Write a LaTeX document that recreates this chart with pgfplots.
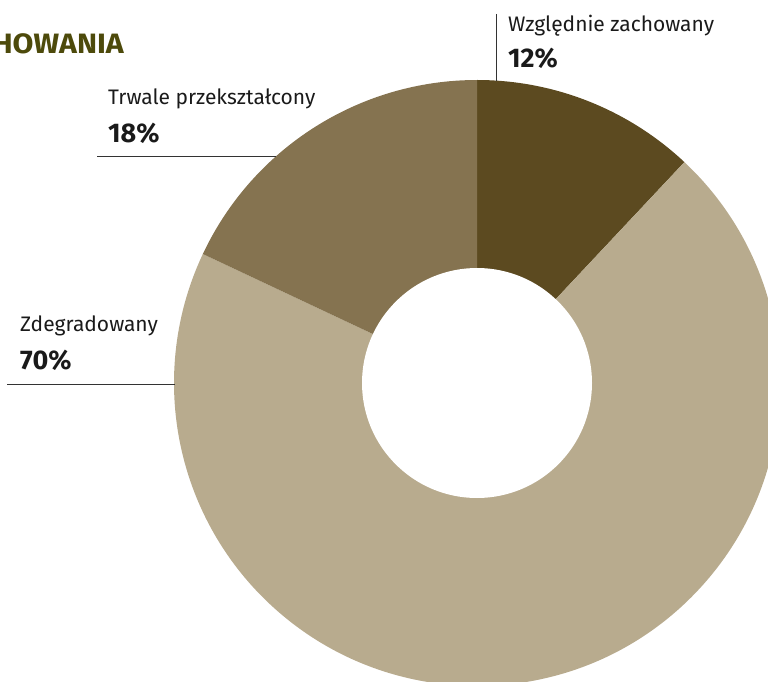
\documentclass[border=0pt]{standalone}
\usepackage{pgfplots}
\usepackage{pgfplotstable}
\pgfplotsset{compat=1.18}
\usepackage{fontspec}
\setmainfont{Fira Sans}
\definecolor{cA}{HTML}{5C4A20}
\definecolor{cB}{HTML}{B8AB8E}
\definecolor{cC}{HTML}{857350}
\definecolor{ttl}{HTML}{4D4A0B}
\definecolor{txt}{HTML}{1A1A1A}
\definecolor{lin}{HTML}{333333}
\pgfplotstableread{
label value
A 12
B 70
C 18
}\piedata
\def\pcx{477}
\def\pcy{298}
\def\pR{303}
\def\pr{115}
\begin{document}%
\begin{tikzpicture}
\pgfplotstablegetelem{0}{value}\of\piedata \let\valA\pgfplotsretval
\pgfplotstablegetelem{1}{value}\of\piedata \let\valB\pgfplotsretval
\pgfplotstablegetelem{2}{value}\of\piedata \let\valC\pgfplotsretval
\pgfmathsetmacro\angA{90}
\pgfmathsetmacro\angB{\angA-3.6*\valA}
\pgfmathsetmacro\angC{\angB-3.6*\valB}
\pgfmathsetmacro\angD{\angC-3.6*\valC}
\begin{axis}[
  at={(0,0)}, anchor=south west,
  scale only axis, width=768pt, height=681pt,
  xmin=0, xmax=768, ymin=0, ymax=681,
  hide axis, clip=true,
]
\coordinate (LL) at (axis cs:0,0);
\coordinate (UR) at (axis cs:768,681);
\fill[cA] (axis cs:\pcx,\pcy) -- (axis cs:{\pcx+\pR*cos(\angA)},{\pcy+\pR*sin(\angA)}) arc[start angle=\angA, end angle=\angB, radius=\pR pt] -- cycle;
\fill[cB] (axis cs:\pcx,\pcy) -- (axis cs:{\pcx+\pR*cos(\angB)},{\pcy+\pR*sin(\angB)}) arc[start angle=\angB, end angle=\angC, radius=\pR pt] -- cycle;
\fill[cC] (axis cs:\pcx,\pcy) -- (axis cs:{\pcx+\pR*cos(\angC)},{\pcy+\pR*sin(\angC)}) arc[start angle=\angC, end angle=\angD, radius=\pR pt] -- cycle;
\fill[white] (axis cs:\pcx,\pcy) circle[radius=\pr pt];
\draw[lin, line width=1pt] (axis cs:496,667) -- (axis cs:496,600);
\draw[lin, line width=1pt] (axis cs:97,524) -- (axis cs:276,524);
\draw[lin, line width=1pt] (axis cs:7,297) -- (axis cs:175,297);
\node[anchor=base east, text=ttl, font=\fontsize{28}{32}\selectfont\bfseries, inner sep=0pt, xscale=1.08] at (axis cs:124,627) {STAN ZACHOWANIA};
\node[anchor=base west, text=txt, font=\fontsize{21}{25}\selectfont, inner sep=0pt] at (axis cs:508,649) {Względnie zachowany};
\node[anchor=base west, text=txt, font=\fontsize{27}{31}\selectfont\bfseries, inner sep=0pt] at (axis cs:508,613) {12\%};
\node[anchor=base west, text=txt, font=\fontsize{21}{25}\selectfont, inner sep=0pt] at (axis cs:108,576) {Trwale przekształcony};
\node[anchor=base west, text=txt, font=\fontsize{27}{31}\selectfont\bfseries, inner sep=0pt] at (axis cs:108,538) {18\%};
\node[anchor=base west, text=txt, font=\fontsize{21}{25}\selectfont, inner sep=0pt] at (axis cs:20,349) {Zdegradowany};
\node[anchor=base west, text=txt, font=\fontsize{27}{31}\selectfont\bfseries, inner sep=0pt] at (axis cs:20,312) {70\%};
\end{axis}
\pgfresetboundingbox
\path (LL) rectangle (UR);
\end{tikzpicture}%
\end{document}
